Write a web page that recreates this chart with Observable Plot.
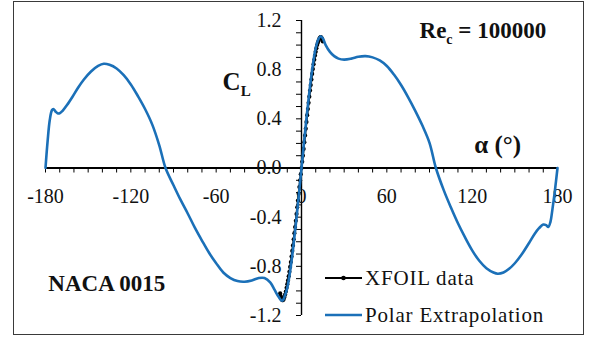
<!DOCTYPE html>
<html>
<head>
<meta charset="utf-8">
<script src="https://cdn.jsdelivr.net/npm/d3@7"></script>
<script src="https://cdn.jsdelivr.net/npm/@observablehq/plot@0.6"></script>
<style>
  body { margin: 0; background: #fff; }
  #wrap { position: relative; width: 594px; height: 337px; font-family: "Palatino Linotype", "Book Antiqua", Palatino, "Liberation Serif", serif; }
  #wrap svg { display: block; }
  #border { position: absolute; left: 13px; top: 1px; width: 569px; height: 332px; border: 1.5px solid #3a3a3a; pointer-events: none; }
  .lg { position: absolute; left: 325px; height: 30px; display: flex; align-items: center; font-size: 21px; letter-spacing: 0.8px; color: #111; white-space: nowrap; }
  .lg svg { margin-right: 3px; }
</style>
</head>
<body>
<div id="wrap">
  <div id="chart"></div>
  <div id="border"></div>
  <div class="lg" style="top:263px">
    <svg width="37" height="10"><line x1="0" y1="5" x2="37" y2="5" stroke="#000" stroke-width="1.8"/><circle cx="18.5" cy="5" r="2.3" fill="#000"/></svg>
    <span>XFOIL data</span>
  </div>
  <div class="lg" style="top:300px">
    <svg width="37" height="10"><line x1="0" y1="5" x2="37" y2="5" stroke="#1b70b8" stroke-width="2.6"/></svg>
    <span>Polar Extrapolation</span>
  </div>
</div>
<script>
// Polar extrapolation curve (angle of attack in degrees, lift coefficient)
const polarAlpha = [-180, -178.5, -177, -175.5, -174.5, -173, -171.5, -170, -168, -165, -161, -157, -153, -148, -143, -139, -135, -130, -125, -120, -115, -110, -105, -100, -95.6, -90, -85, -80, -75, -70, -65, -60, -55, -50, -45, -40, -35, -30, -26, -22, -19, -16, -14, -13, -12, -10, -8, -6, -4, -2, 0, 2, 4, 6, 8, 10, 12, 13.5, 15, 17, 20, 23, 26, 30, 35, 40, 45, 50, 55, 60, 65, 70, 75, 80, 85, 90, 94.5, 100, 105, 110, 115, 120, 125, 130, 135, 138, 142, 146, 150, 155, 160, 164, 167, 170, 172, 173.5, 175, 176.5, 178, 180];
const polarCL = [0, 0.22, 0.39, 0.47, 0.48, 0.46, 0.445, 0.445, 0.465, 0.51, 0.58, 0.655, 0.72, 0.785, 0.83, 0.848, 0.84, 0.81, 0.755, 0.68, 0.585, 0.48, 0.355, 0.185, 0, -0.14, -0.26, -0.37, -0.485, -0.59, -0.69, -0.775, -0.85, -0.895, -0.92, -0.925, -0.915, -0.895, -0.895, -0.93, -0.99, -1.05, -1.078, -1.075, -1.05, -0.975, -0.84, -0.665, -0.46, -0.235, 0, 0.235, 0.46, 0.665, 0.84, 0.975, 1.05, 1.072, 1.055, 1.0, 0.945, 0.91, 0.89, 0.882, 0.89, 0.905, 0.91, 0.9, 0.875, 0.83, 0.76, 0.675, 0.575, 0.465, 0.345, 0.205, 0, -0.18, -0.32, -0.45, -0.565, -0.67, -0.755, -0.815, -0.85, -0.86, -0.85, -0.82, -0.775, -0.7, -0.61, -0.535, -0.49, -0.46, -0.465, -0.48, -0.44, -0.33, -0.2, 0];

// XFOIL data
const xfoilAlpha = [-15, -14.5, -14, -13.5, -13, -12.5, -12, -11.5, -11, -10.5, -10, -9.5, -9, -8.5, -8, -7.5, -7, -6.5, -6, -5.5, -5, -4.5, -4, -3.5, -3, -2.5, -2, -1.5, -1, -0.5, 0, 0.5, 1, 1.5, 2, 2.5, 3, 3.5, 4, 4.5, 5, 5.5, 6, 6.5, 7, 7.5, 8, 8.5, 9, 9.5, 10, 10.5, 11, 11.5, 12, 12.5, 13, 13.5, 14, 14.5, 15];
const xfoilCL = [-1.02, -1.045, -1.065, -1.075, -1.075, -1.065, -1.05, -1.03, -1.005, -0.975, -0.945, -0.915, -0.88, -0.845, -0.805, -0.765, -0.72, -0.675, -0.63, -0.58, -0.53, -0.48, -0.43, -0.375, -0.32, -0.265, -0.21, -0.155, -0.1, -0.05, 0, 0.05, 0.1, 0.155, 0.21, 0.265, 0.32, 0.375, 0.43, 0.48, 0.53, 0.58, 0.63, 0.675, 0.72, 0.765, 0.805, 0.845, 0.88, 0.915, 0.945, 0.975, 1.0, 1.02, 1.035, 1.05, 1.06, 1.065, 1.06, 1.05, 1.03];

// Tick labels
const xTickLabels = [-180, -120, -60, 0, 60, 120, 180];
const yTickLabels = [-1.2, -0.8, -0.4, 0, 0.4, 0.8, 1.2];
const xMinorTicks = d3.range(-180, 181, 10);
const yMinorTicks = d3.range(-12, 13).map(i => i / 10);

const polar = polarAlpha.map((a, i) => ({a, cl: polarCL[i]}));
const xfoil = xfoilAlpha.map((a, i) => ({a, cl: xfoilCL[i]}));

const blue = "#1b70b8";
const FF = '"Palatino Linotype", "Book Antiqua", Palatino, "Liberation Serif", serif';

const chart = Plot.plot({
  width: 594,
  height: 337,
  marginLeft: 45,
  marginRight: 37,
  marginTop: 20,
  marginBottom: 22,
  x: {domain: [-180, 180], axis: null},
  y: {domain: [-1.2, 1.2], axis: null},
  style: {fontFamily: FF, background: "transparent", color: "#111"},
  marks: [
    // axes lines
    Plot.ruleY([0], {x1: -180, x2: 180, stroke: "#000", strokeWidth: 1.8}),
    Plot.ruleX([0], {y1: -1.2, y2: 1.2, stroke: "#000", strokeWidth: 1.4}),
    // minor ticks
    Plot.ruleX(xMinorTicks, {x: d => d, y1: 0, y2: 0, insetBottom: -5, stroke: "#000", strokeWidth: 1}),
    Plot.ruleY(yMinorTicks, {y: d => d, x1: 0, x2: 0, insetLeft: -5, stroke: "#000", strokeWidth: 1}),
    // tick labels
    Plot.text(xTickLabels, {x: d => d, y: 0, dy: 29, text: d => String(d), fontSize: 20, textAnchor: "middle", lineAnchor: "middle", fill: "#111"}),
    Plot.text(yTickLabels, {x: 0, y: d => d, dx: -20, text: d => d.toFixed(1), fontSize: 20, textAnchor: "end", lineAnchor: "middle", fill: "#111"}),
    // data
    Plot.line(xfoil, {x: "a", y: "cl", stroke: "#000", strokeWidth: 2}),
    Plot.dot(xfoil, {x: "a", y: "cl", r: 2.1, fill: "#000"}),
    Plot.line(polar, {x: "a", y: "cl", stroke: blue, strokeWidth: 2.6, curve: "catmull-rom"}),
    // annotations
    Plot.text(["C"], {x: -55.5, y: 0.633, text: d => d, fontSize: 25, fontWeight: "bold", textAnchor: "start", lineAnchor: "bottom", fill: "#111"}),
    Plot.text(["α (°)"], {x: 121.5, y: 0.12, text: d => d, fontSize: 25, fontWeight: "bold", textAnchor: "start", lineAnchor: "bottom", fill: "#111"}),
    Plot.text(["Re"], {x: 83, y: 1.055, text: d => d, fontSize: 23, fontWeight: "bold", textAnchor: "start", lineAnchor: "bottom", fill: "#111"}),
    Plot.text(["NACA 0015"], {x: -178, y: -1.0, text: d => d, fontSize: 23, fontWeight: "bold", textAnchor: "start", lineAnchor: "bottom", fill: "#111"})
  ]
});

// add subscripts to axis label "C_L" and "Re_c = 100000"
d3.select(chart).selectAll("text").each(function () {
  const t = d3.select(this);
  const s = this.textContent;
  if (s === "C") {
    t.append("tspan").attr("font-size", 15).attr("dy", 6).text("L");
  } else if (s === "Re") {
    t.append("tspan").attr("font-size", 14).attr("dy", 6).text("c");
    t.append("tspan").attr("dy", -6).text(" = 100000");
  }
});

document.getElementById("chart").appendChild(chart);
</script>
</body>
</html>
